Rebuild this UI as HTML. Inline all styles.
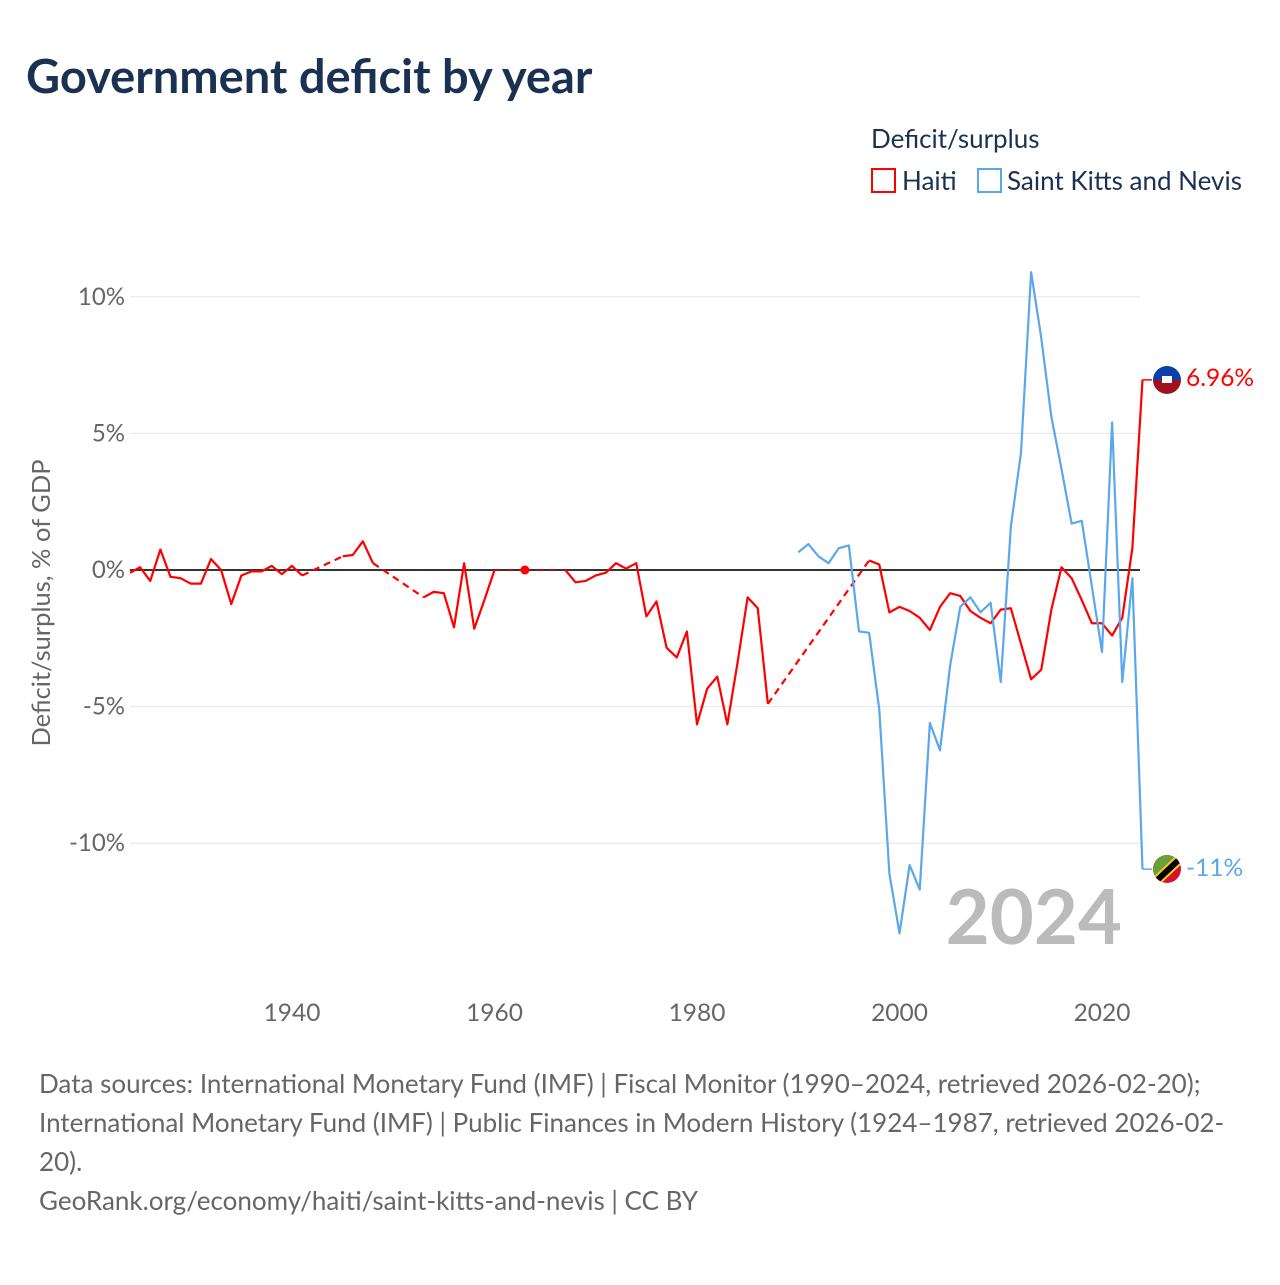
<!DOCTYPE html>
<html><head><meta charset="utf-8"><style>
body{margin:0;background:#fff;width:1280px;height:1280px;overflow:hidden;font-family:"Liberation Sans",sans-serif;}
</style></head><body>
<svg width="1280" height="1280" font-family="Lato,'Liberation Sans',sans-serif">
<text x="26" y="93" font-size="47" font-weight="bold" fill="#1b3152">Government deficit by year</text>
<text x="871" y="148" font-size="26" fill="#1b3152">Deficit/surplus</text>
<g><rect x="872" y="169" width="23" height="23" fill="none" stroke="#f00" stroke-width="2"/><text x="902" y="190" font-size="26" fill="#1b3152">Haiti</text></g>
<g><rect x="978" y="169" width="23" height="23" fill="none" stroke="#5aa7ec" stroke-width="2"/><text x="1007" y="190" font-size="26" fill="#1b3152">Saint Kitts and Nevis</text></g>
<text transform="translate(50,603) rotate(-90)" text-anchor="middle" font-size="25.5" fill="#666">Deficit/surplus, % of GDP</text>
<g id="grid"></g><g id="series"></g>
<text x="1122" y="944" text-anchor="end" font-size="76" font-weight="bold" fill="#bbb">2024</text>
<g><clipPath id="c1"><circle cx="1167" cy="380" r="14"/></clipPath><g clip-path="url(#c1)"><rect x="1150" y="364" width="34" height="16" fill="#0a3ea8"/><rect x="1150" y="380" width="34" height="16" fill="#a1101e"/><rect x="1162" y="376" width="10" height="7" fill="#fff"/></g></g>
<text x="1186" y="386" font-size="24.5" fill="#f00">6.96%</text>
<g><clipPath id="c2"><circle cx="1167" cy="869" r="14"/></clipPath><g clip-path="url(#c2)"><rect x="1150" y="853" width="34" height="32" fill="#d8102e"/><polygon points="1150,853 1184,853 1150,885" fill="#6a9f3c"/><line x1="1152" y1="885" x2="1184" y2="855" stroke="#f5cc1f" stroke-width="10"/><line x1="1152" y1="885" x2="1184" y2="855" stroke="#000" stroke-width="6"/></g></g>
<text x="1186" y="876" font-size="24.5" fill="#5aa7ec">-11%</text>
<g font-size="26" fill="#666">
<text x="39" y="1093">Data sources: International Monetary Fund (IMF) | Fiscal Monitor (1990–2024, retrieved 2026-02-20);</text>
<text x="39" y="1132">International Monetary Fund (IMF) | Public Finances in Modern History (1924–1987, retrieved 2026-02-</text>
<text x="39" y="1171">20).</text>
<text x="39" y="1210">GeoRank.org/economy/haiti/saint-kitts-and-nevis | CC BY</text>
</g>
</svg>
<script>
const haitiYears=[1924,1925,1926,1927,1928,1929,1930,1931,1932,1933,1934,1935,1936,1937,1938,1939,1940,1941,1945,1946,1947,1948,1953,1954,1955,1956,1957,1958,1959,1960,1963,1967,1968,1969,1970,1971,1972,1973,1974,1975,1976,1977,1978,1979,1980,1981,1982,1983,1984,1985,1986,1987,1997,1998,1999,2000,2001,2002,2003,2004,2005,2006,2007,2008,2009,2010,2011,2012,2013,2014,2015,2016,2017,2018,2019,2020,2021,2022,2023,2024];
const haitiValues=[-0.1,0.1,-0.4,0.75,-0.25,-0.3,-0.5,-0.5,0.4,0.0,-1.25,-0.2,-0.05,-0.05,0.15,-0.15,0.15,-0.2,0.5,0.55,1.05,0.25,-1.0,-0.8,-0.85,-2.1,0.25,-2.15,-1.1,0,0,0,-0.45,-0.4,-0.2,-0.1,0.25,0.05,0.25,-1.7,-1.15,-2.85,-3.2,-2.25,-5.65,-4.35,-3.9,-5.65,-3.4,-1.0,-1.4,-4.9,0.35,0.2,-1.55,-1.35,-1.5,-1.75,-2.2,-1.35,-0.85,-0.95,-1.5,-1.75,-1.95,-1.45,-1.4,-2.7,-4.0,-3.65,-1.45,0.1,-0.3,-1.1,-1.95,-1.95,-2.4,-1.75,0.8,6.96];
const sknYears=[1990,1991,1992,1993,1994,1995,1996,1997,1998,1999,2000,2001,2002,2003,2004,2005,2006,2007,2008,2009,2010,2011,2012,2013,2014,2015,2016,2017,2018,2019,2020,2021,2022,2023,2024];
const sknValues=[0.65,0.95,0.5,0.25,0.8,0.9,-2.25,-2.3,-5.1,-11.1,-13.3,-10.8,-11.7,-5.6,-6.6,-3.5,-1.35,-1.0,-1.55,-1.2,-4.1,1.6,4.3,10.9,8.5,5.6,3.7,1.7,1.8,-0.6,-3.0,5.4,-4.1,-0.3,-10.95];
const yTicks=[10,5,0,-5,-10];
const xTicks=[1940,1960,1980,2000,2020];
const X=y=>292+(y-1940)*10.125;
const Y=v=>570-v*27.32;
const NS='http://www.w3.org/2000/svg';
function mk(t,a,p){const e=document.createElementNS(NS,t);for(const k in a)e.setAttribute(k,a[k]);p.appendChild(e);return e;}
const grid=document.getElementById('grid'),ser=document.getElementById('series');
yTicks.forEach(v=>{
 const l=mk('line',{x1:130,x2:1140,y1:Y(v),y2:Y(v),stroke:v===0?'#333':'#e6e6e6','stroke-width':v===0?2:1},grid);
 
 
 const t=mk('text',{x:125,y:Y(v)+8,'text-anchor':'end','font-size':24,fill:'#666'},grid);
 t.textContent=v+'%';
 
 
});
xTicks.forEach(y=>{
 const t=mk('text',{x:X(y),y:1021,'text-anchor':'middle','font-size':24.5,fill:'#666'},grid);
 t.textContent=y;
 
 
});
function draw(years,vals,color,name){
 const g=mk('g',{},ser);
 
 
 let pts=[];
 const flush=()=>{if(pts.length>1)mk('polyline',{points:pts.join(' '),fill:'none',stroke:color,'stroke-width':2.2,'stroke-linejoin':'round'},g);pts=[];};
 for(let i=0;i<years.length;i++){
  if(i>0&&years[i]-years[i-1]>1){
   flush();
   mk('line',{x1:X(years[i-1]),y1:Y(vals[i-1]),x2:X(years[i]),y2:Y(vals[i]),stroke:color,'stroke-width':2.2,'stroke-dasharray':'7,5',opacity:(vals[i]===0&&vals[i-1]===0)?0.35:1},g);
  }
  pts.push(X(years[i])+','+Y(vals[i]));
 }
 flush();
 const last=years.length-1;
 mk('line',{x1:X(years[last]),y1:Y(vals[last]),x2:1152,y2:Y(vals[last]),stroke:color,'stroke-width':1.5},g);
}
draw(haitiYears,haitiValues,'#ff0000','haiti-line');
draw(sknYears,sknValues,'#5aa7ec','saint-kitts-line');
const d=mk('circle',{cx:X(1963),cy:Y(0),r:4.5,fill:'#f00'},ser);


</script>
</body></html>
